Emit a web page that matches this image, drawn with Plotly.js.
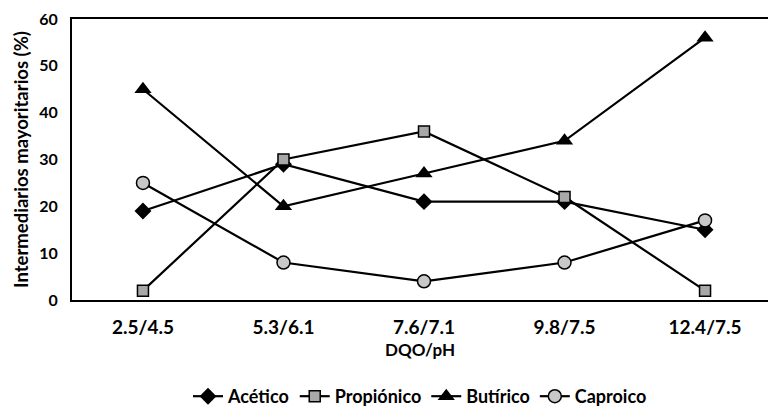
<!DOCTYPE html>
<html>
<head>
<meta charset="utf-8">
<script src="https://cdn.plot.ly/plotly-3.0.1.min.js"></script>
<style>
  html, body { margin: 0; padding: 0; background: #fff; }
  #chart { width: 768px; height: 415px; }
</style>
</head>
<body>
<div id="chart"></div>
<script>
// DQO/pH conditions and share of main intermediates (%)
const categories = ['2.5/4.5', '5.3/6.1', '7.6/7.1', '9.8/7.5', '12.4/7.5'];
const acetico    = [19, 29, 21, 21, 15];
const propionico = [2, 30, 36, 22, 2];
const butirico   = [45, 20, 27, 34, 56];
const caproico   = [25, 8, 4, 8, 17];

const FONT = 'Lato, "Open Sans", sans-serif';
const line = { color: '#000', width: 2.2 };

const traces = [
  { name: 'Acético', y: acetico,
    marker: { symbol: 'diamond', size: 13, color: '#000' } },
  { name: 'Propiónico', y: propionico,
    marker: { symbol: 'square', size: 11, color: '#a8a8a8', line: { color: '#000', width: 1.5 } } },
  { name: 'Butírico', y: butirico,
    marker: { symbol: 'triangle-up', size: 15, color: '#000' } },
  { name: 'Caproico', y: caproico,
    marker: { symbol: 'circle', size: 13, color: '#c8c8c8', line: { color: '#000', width: 1.5 } } }
].map(t => Object.assign({ x: categories, type: 'scatter', mode: 'lines+markers', line: line }, t));

const layout = {
  width: 768, height: 415,
  margin: { l: 72, r: 0, t: 19, b: 115 },
  paper_bgcolor: '#fff', plot_bgcolor: '#fff',
  font: { family: FONT, size: 17, color: '#000', weight: 700 },
  showlegend: true,
  legend: {
    orientation: 'h', x: 0.5, xanchor: 'center', xref: 'paper',
    yref: 'container', y: -0.022, yanchor: 'bottom',
    font: { family: FONT, size: 18, weight: 700 },
    itemwidth: 30, tracegroupgap: 0
  },
  xaxis: {
    type: 'category',
    range: [-0.505, 4.448],
    showline: true, linecolor: '#000', linewidth: 2,
    mirror: true,
    showgrid: false, zeroline: false,
    ticks: '', ticklabelstandoff: 9,
    tickfont: { family: FONT, size: 19, weight: 700 },
    title: { text: 'DQO/pH', standoff: 7, font: { family: FONT, size: 17, weight: 700 } }
  },
  yaxis: {
    range: [0, 60], dtick: 10,
    showline: true, linecolor: '#000', linewidth: 2,
    showgrid: false, zeroline: false,
    ticks: '', ticklabelstandoff: 9,
    tickfont: { family: FONT, size: 16, weight: 700 },
    title: { text: 'Intermediarios mayoritarios (%)', standoff: 6, font: { family: FONT, size: 18.5, weight: 700 } }
  }
};

Plotly.newPlot('chart', traces, layout, { displayModeBar: false, staticPlot: true });
</script>
</body>
</html>
